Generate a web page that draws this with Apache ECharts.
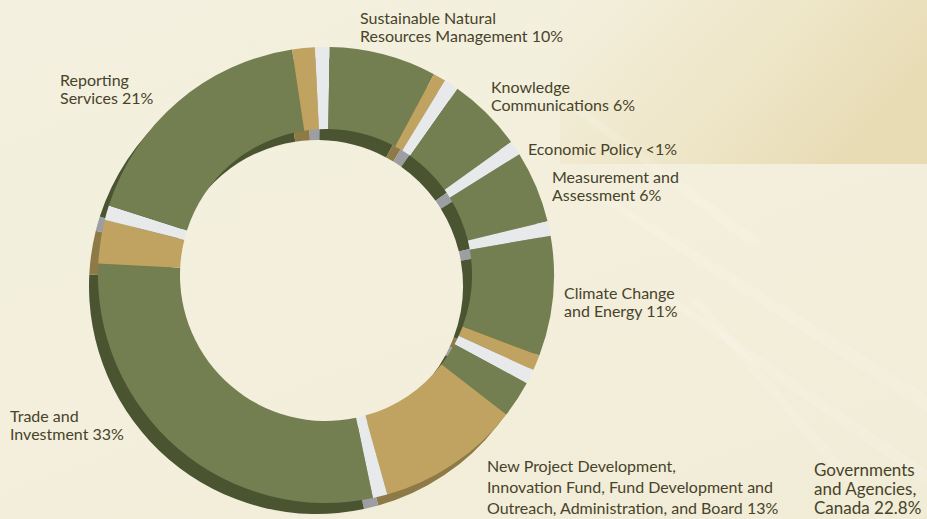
<!DOCTYPE html>
<html>
<head>
<meta charset="utf-8">
<script src="https://cdn.jsdelivr.net/npm/echarts@6/dist/echarts.min.js"></script>
<style>
  html, body { margin: 0; padding: 0; }
  body {
    width: 927px; height: 519px; overflow: hidden;
    background: linear-gradient(160deg, #f4f0df 0%, #f3efdc 55%, #f1ecd6 100%);
  }
  #main { width: 927px; height: 519px; }
</style>
</head>
<body>
<div id="main"></div>
<script>
// categories, clockwise from the top of the ring
var categories = ['Sustainable Natural Resources Management', 'Knowledge Communications',
  'Measurement and Assessment', 'Climate Change and Energy',
  'New Project Development, Innovation Fund, Fund Development and Outreach, Administration, and Board',
  'Trade and Investment', 'Reporting Services'];
// share of the ring (percent) drawn in green and in tan for each category
var greenShare = [7.6, 5.3, 5.1, 8.5, 2.6, 29.1, 17.7];
var tanShare   = [0.9, 0, 0, 1.1, 10.2, 3.1, 1.6];
// light separator between categories
var gapShare = 1.03;

// labels as printed
var labelText = [
  'Sustainable Natural\nResources Management 10%',
  'Reporting\nServices 21%',
  'Knowledge\nCommunications 6%',
  'Economic Policy <1%',
  'Measurement and\nAssessment 6%',
  'Climate Change\nand Energy 11%',
  'Trade and\nInvestment 33%',
  'New Project Development,\nInnovation Fund, Fund Development and\nOutreach, Administration, and Board 13%',
  'Governments\nand Agencies,\nCanada 22.8%'
];
var labelPos = [[360, 8], [60, 70], [491, 77], [528, 139], [552, 167], [564, 283], [10, 406], [487, 455], [814, 460]];

var chart = echarts.init(document.getElementById('main'), null, { renderer: 'svg' });

function buildData(green, tan, gap) {
  var out = [];
  categories.forEach(function (name, i) {
    out.push({ value: gapShare, name: 'gap' + i, itemStyle: { color: gap } });
    out.push({ value: greenShare[i], name: name, itemStyle: { color: green } });
    if (tanShare[i] > 0) out.push({ value: tanShare[i], name: name + ' ', itemStyle: { color: tan } });
  });
  return out;
}

var ringBase = {
  type: 'pie',
  radius: [146, 228],
  startAngle: 92.8,
  clockwise: true,
  silent: true,
  animation: false,
  avoidLabelOverlap: false,
  label: { show: false },
  labelLine: { show: false },
  emphasis: { disabled: true }
};

// faint light streaks in the backdrop
var rays = [
  [[600, 200], [610, 198], [927, 395], [927, 412]],
  [[650, 290], [662, 290], [927, 470], [927, 485]],
  [[690, 300], [700, 300], [890, 519], [876, 519]],
  [[560, 100], [572, 100], [760, 240], [748, 244]]
];

var backdrop = [{
  type: 'rect', silent: true, z: -20,
  shape: { x: 560, y: 0, width: 367, height: 164 },
  style: {
    fill: new echarts.graphic.LinearGradient(0, 0, 1, 0.4, [
      { offset: 0, color: 'rgba(228,212,160,0)' },
      { offset: 0.6, color: 'rgba(228,212,160,0.35)' },
      { offset: 1, color: 'rgba(222,204,148,0.55)' }
    ])
  }
}];

chart.setOption({
  backgroundColor: 'transparent',
  graphic: backdrop.concat(rays.map(function (p) {
    return {
      type: 'polygon', silent: true, z: -10,
      shape: { points: p },
      style: { fill: 'rgba(255,255,248,0.15)' }
    };
  })).concat(labelText.map(function (t, i) {
    return {
      type: 'text', silent: true, z: 10,
      x: labelPos[i][0], y: labelPos[i][1],
      style: {
        text: t,
        font: (i === 8 ? '17px' : '16px') + ' Lato',
        lineHeight: i === 7 ? 21 : (i === 8 ? 19 : 18),
        fill: '#47432a'
      }
    };
  })),
  series: [
    Object.assign({}, ringBase, {
      center: [317, 286], z: 1,
      data: buildData('#4a5431', '#8e7a46', '#9c9ea3')
    }),
    Object.assign({}, ringBase, {
      center: [326, 275], z: 2,
      data: buildData('#737f50', '#c0a361', '#e8e9ea')
    })
  ]
});
</script>
</body>
</html>
